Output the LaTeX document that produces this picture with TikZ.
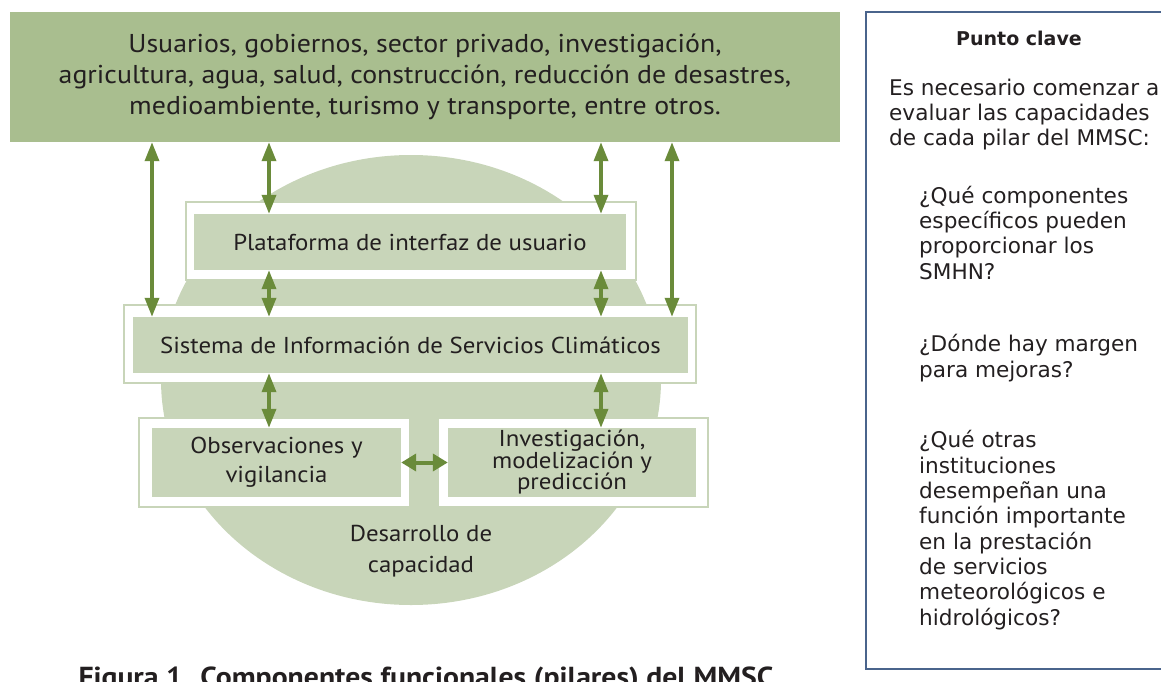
\documentclass[tikz,border=0pt]{standalone}
\usepackage{fontspec}
\setmainfont[FakeStretch=1.08]{PT Sans}
\newfontfamily\panelfont{DejaVu Sans}
\usetikzlibrary{arrows.meta}

\definecolor{topgreen}{HTML}{A9BE8F}
\definecolor{palegreen}{HTML}{C8D5B9}
\definecolor{arrowgreen}{HTML}{6A8B3A}
\definecolor{panelblue}{HTML}{4A648C}
\definecolor{ink}{HTML}{231F20}

\begin{document}
\begin{tikzpicture}[x=1pt, y=-1pt, text=ink,
    frame/.style = {draw = palegreen, fill = white, line width = 1.5pt, inner sep = 0pt},
    pillar/.style = {fill = palegreen, inner sep = 0pt, align = center, font = \fontsize{23}{24}\selectfont},
    dbl/.style = {{Triangle[length=19pt, width=14pt]}-{Triangle[length=19pt, width=14pt]}, line width = 3.5pt, draw = arrowgreen},
    side/.style = {{Triangle[length=15pt, width=17pt]}-{Triangle[length=15pt, width=17pt]}, line width = 4pt, draw = arrowgreen},
    ptext/.style = {anchor = base west, inner sep = 0pt, align = left, font = \panelfont\fontsize{21.6}{25.3}\selectfont}]
      \useasboundingbox (0, 0) rectangle (1161, 682);

      % capacity background
      \fill [palegreen] (411, 380) ellipse [x radius = 250pt, y radius = 225pt];

      % users
      \node [fill = topgreen, minimum width = 830pt, minimum height = 130pt, inner sep = 0pt, align = center, font = \fontsize{25.8}{31}\selectfont] (users) at (425, 77) {Usuarios, gobiernos, sector privado, investigación,\\ agricultura, agua, salud, construcción, reducción de desastres,\\ medioambiente, turismo y transporte, entre otros.};

      % pillars
      \node [frame, minimum width = 450pt, minimum height = 78pt] (fplat) at (411, 241) {};
      \node [pillar, minimum width = 432pt, minimum height = 56pt] (plat) at (410, 242) {Plataforma de interfaz de usuario};
      \node [frame, minimum width = 572pt, minimum height = 78pt] (fsis) at (410, 344) {};
      \node [pillar, minimum width = 555pt, minimum height = 56pt] (sis) at (410.5, 345) {Sistema de Información de Servicios Climáticos};
      \node [frame, minimum width = 271pt, minimum height = 89pt] (fobs) at (274.5, 462.5) {};
      \node [pillar, minimum width = 249pt, minimum height = 69pt, font = \fontsize{23}{29}\selectfont] (obs) at (276.5, 462.5) {Observaciones y\\ vigilancia};
      \node [frame, minimum width = 270pt, minimum height = 89pt] (finv) at (573, 462.5) {};
      \node [pillar, minimum width = 248pt, minimum height = 69pt, font = \fontsize{23}{21.5}\selectfont] (inv) at (572, 462.5) {Investigación,\\ modelización y\\ predicción};

      \node [align = center, font = \fontsize{23}{31}\selectfont] (cap) at (421, 551) {Desarrollo de\\ capacidad};

      % arrows
      \coordinate (c1) at (152, 0);
      \coordinate (c2) at (269, 0);
      \coordinate (c3) at (601, 0);
      \coordinate (c4) at (672, 0);
      \draw [dbl] (users.south -| c1) -- (sis.north -| c1);
      \draw [dbl] (users.south -| c4) -- (sis.north -| c4);
      \foreach \c in {c2, c3} {
        \draw [dbl] (users.south -| \c) -- (plat.north -| \c);
        \draw [dbl] (plat.south -| \c) -- (sis.north -| \c);
      }
      \draw [dbl] (sis.south -| c2) -- (obs.north -| c2);
      \draw [dbl] (sis.south -| c3) -- (inv.north -| c3);
      \draw [side] (obs.east) -- (inv.west);

      \node [anchor = base, inner sep = 0pt, font = \bfseries\fontsize{27.5}{28}\selectfont] (caption) at (426, 686) {Figura 1. Componentes funcionales (pilares) del MMSC};

      % key point panel
      \draw [panelblue, line width = 1.6pt] (866, 12) rectangle (1172, 669);
      \node [anchor = base, inner sep = 0pt, font = \panelfont\bfseries\fontsize{19}{19}\selectfont] (title) at (1019, 46) {Punto clave};
      \node [ptext] (intro) at (889, 146) {Es necesario comenzar a\\ evaluar las capacidades\\ de cada pilar del MMSC:};
      \node [ptext] (q1) at (919, 279) {¿Qué componentes\\ específicos pueden\\ proporcionar los\\ SMHN?};
      \node [ptext] (q2) at (919, 377) {¿Dónde hay margen\\ para mejoras?};
      \node [ptext] (q3) at (919, 625) {¿Qué otras\\ instituciones\\ desempeñan una\\ función importante\\ en la prestación\\ de servicios\\ meteorológicos e\\ hidrológicos?};
\end{tikzpicture}
\end{document}
